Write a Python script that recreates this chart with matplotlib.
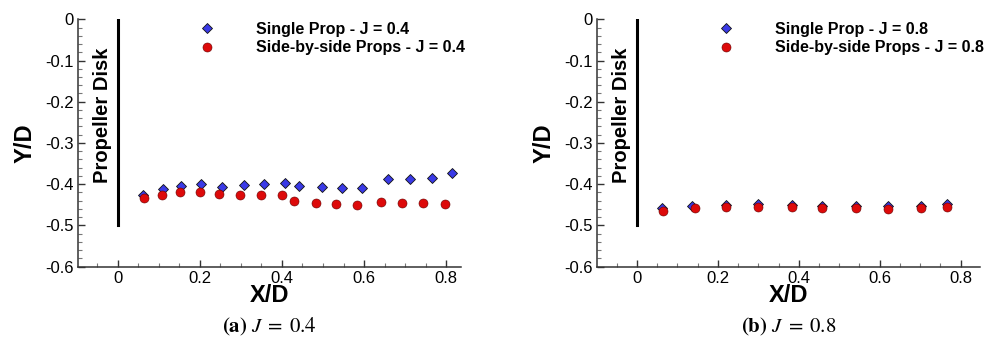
import matplotlib
matplotlib.use("Agg")
import matplotlib.pyplot as plt
from matplotlib.ticker import MultipleLocator, FuncFormatter

# Tip-vortex trajectory data, J = 0.4
x_single_04 = [0.061, 0.111, 0.154, 0.202, 0.253, 0.307, 0.356, 0.407, 0.441, 0.497,
               0.546, 0.594, 0.658, 0.712, 0.764, 0.814]
y_single_04 = [-0.426, -0.412, -0.405, -0.399, -0.407, -0.401, -0.399, -0.396, -0.404, -0.406,
               -0.408, -0.408, -0.387, -0.387, -0.386, -0.374]
x_side_04 = [0.064, 0.109, 0.152, 0.201, 0.248, 0.299, 0.348, 0.400, 0.430, 0.482,
             0.531, 0.583, 0.641, 0.693, 0.743, 0.798]
y_side_04 = [-0.433, -0.425, -0.420, -0.420, -0.423, -0.425, -0.425, -0.426, -0.441, -0.445,
             -0.449, -0.451, -0.442, -0.446, -0.446, -0.447]

# Tip-vortex trajectory data, J = 0.8
x_single_08 = [0.063, 0.135, 0.221, 0.300, 0.382, 0.458, 0.541, 0.621, 0.702, 0.767]
y_single_08 = [-0.458, -0.454, -0.450, -0.447, -0.450, -0.452, -0.452, -0.453, -0.454, -0.448]
x_side_08 = [0.064, 0.143, 0.220, 0.300, 0.382, 0.458, 0.541, 0.621, 0.702, 0.767]
y_side_08 = [-0.464, -0.457, -0.455, -0.455, -0.455, -0.458, -0.458, -0.459, -0.458, -0.455]

panels = [
    dict(xs=x_single_04, ys=y_single_04, xd=x_side_04, yd=y_side_04, J="0.4", tag="(a)",
         left=0.079, xlim=(-0.097, 0.837)),
    dict(xs=x_single_08, ys=y_single_08, xd=x_side_08, yd=y_side_08, J="0.8", tag="(b)",
         left=0.6064, xlim=(-0.0995, 0.849)),
]

plt.rcParams["font.family"] = ["Liberation Sans", "DejaVu Sans"]
plt.rcParams["mathtext.fontset"] = "stix"

fig = plt.figure(figsize=(9.84, 3.38), dpi=100)
spine_col = "#333333"

for p in panels:
    ax = fig.add_axes([p["left"], 0.211, 0.390, 0.732])
    ax.set_xlim(*p["xlim"])
    ax.set_ylim(-0.6, 0.0)

    # propeller disk plane
    ax.plot([0, 0], [0, -0.5], color="black", lw=2.2, zorder=2)
    ax.text(-0.037, -0.232, "Propeller Disk", rotation=90, ha="center", va="center",
            fontsize=14.5, fontweight="bold")

    ax.plot(p["xs"], p["ys"], linestyle="none", marker="D", markersize=5.5,
            markerfacecolor="#3a3ae6", markeredgecolor="#111111", markeredgewidth=0.6,
            label=f"Single Prop - J = {p['J']}", zorder=3, clip_on=False)
    ax.plot(p["xd"], p["yd"], linestyle="none", marker="o", markersize=6.5,
            markerfacecolor="#dd0a0a", markeredgecolor="#660000", markeredgewidth=0.4,
            label=f"Side-by-side Props - J = {p['J']}", zorder=4, clip_on=False)

    ax.legend(loc="upper left", bbox_to_anchor=(0.316, 0.99), frameon=False,
              handlelength=1.0, handletextpad=2.55, borderpad=0.0, borderaxespad=0.0,
              labelspacing=0.22, prop=dict(size=11.5, weight="bold"))

    for s in ("top", "right"):
        ax.spines[s].set_visible(False)
    for s in ("left", "bottom"):
        ax.spines[s].set_linewidth(1.1)
        ax.spines[s].set_color(spine_col)

    ax.xaxis.set_major_locator(MultipleLocator(0.2))
    ax.xaxis.set_minor_locator(MultipleLocator(0.05))
    ax.yaxis.set_major_locator(MultipleLocator(0.1))
    ax.yaxis.set_minor_locator(MultipleLocator(0.02))
    fmt = FuncFormatter(lambda v, _: "0" if abs(v) < 1e-9 else f"{v:.1f}")
    ax.xaxis.set_major_formatter(fmt)
    ax.yaxis.set_major_formatter(fmt)
    ax.tick_params(which="major", direction="in", length=5, width=1.0, color=spine_col,
                   labelsize=12, pad=3)
    ax.tick_params(which="minor", direction="in", length=3, width=0.8, color="#777777")

    ax.set_xlabel("X/D", fontsize=17, fontweight="bold", labelpad=-1)
    ax.set_ylabel("Y/D", fontsize=17, fontweight="bold", labelpad=6)

    cx = p["left"] + 0.390 / 2
    fig.text(cx, 1 - 327 / 338, rf"$\mathbf{{{p['tag']}}}\ J\;=\;{p['J']}$",
             ha="center", va="center", fontsize=15)

fig.savefig("out.png", dpi=100)
